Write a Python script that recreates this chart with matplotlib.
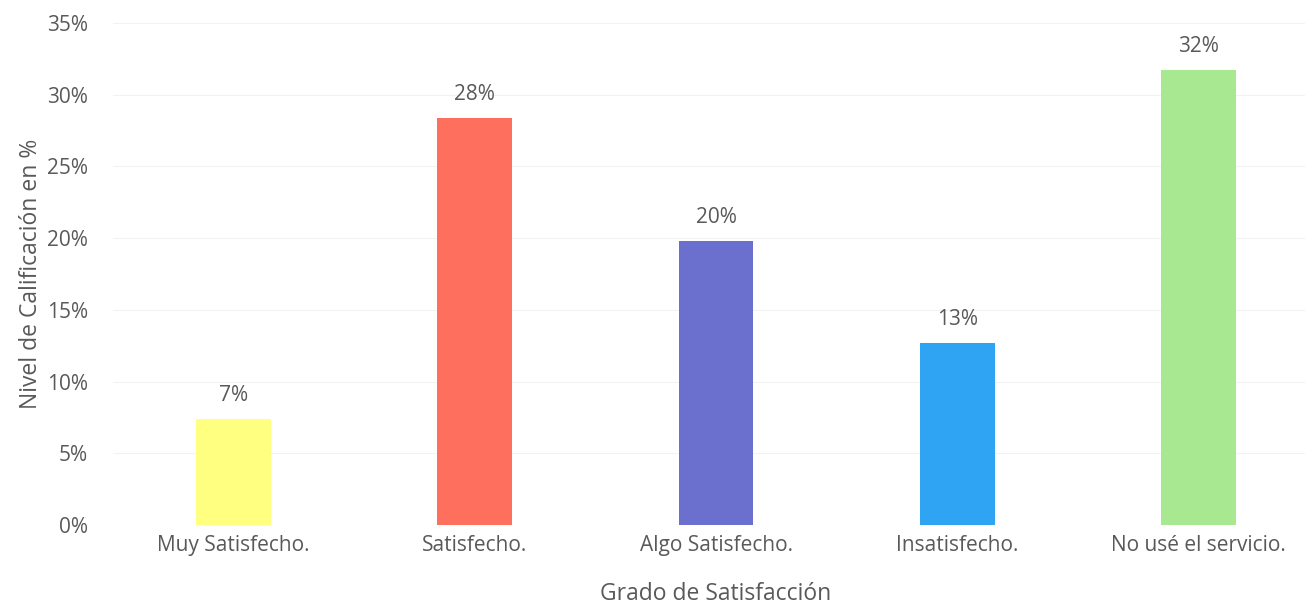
import matplotlib
matplotlib.use("Agg")
import matplotlib.pyplot as plt
from matplotlib.ticker import PercentFormatter

# Survey results: satisfaction level (share of respondents)
categories = ["Muy Satisfecho.", "Satisfecho.", "Algo Satisfecho.",
              "Insatisfecho.", "No usé el servicio."]
shares = [0.074, 0.284, 0.198, 0.127, 0.317]
bar_colors = ["#FFFF80", "#FF6F5E", "#6B70CF", "#2FA4F2", "#A8E890"]

TEXT = "#595959"
plt.rcParams["font.family"] = ["Open Sans", "DejaVu Sans"]

fig = plt.figure(figsize=(13.05, 6.09), dpi=100)
ax = fig.add_axes([113 / 1305, 84 / 609, 1206 / 1305, 502 / 609])

x = range(len(categories))
ax.bar(x, shares, width=0.31, color=bar_colors, zorder=2)

# value labels above each bar
for xi, v in zip(x, shares):
    ax.text(xi, v + 0.009, f"{v:.0%}", ha="center", va="bottom",
            fontsize=15, color=TEXT)

ax.set_xlim(-0.5, 4.5)
ax.set_ylim(0, 0.35)
ax.set_yticks([i * 0.05 for i in range(8)])
ax.yaxis.set_major_formatter(PercentFormatter(1.0, decimals=0))
ax.set_xticks(list(x))
ax.set_xticklabels(categories)

ax.grid(axis="y", color="#F2F2F2", linewidth=0.8, zorder=0)
for s in ax.spines.values():
    s.set_visible(False)
ax.tick_params(length=0, labelsize=15, labelcolor=TEXT)
ax.tick_params(axis="x", pad=7)
ax.tick_params(axis="y", pad=18)

ax.set_xlabel("Grado de Satisfacción", fontsize=16.5, color=TEXT, labelpad=19)
ax.set_ylabel("Nivel de Calificación en %", fontsize=16.5, color=TEXT, labelpad=3)

fig.savefig("out.png", dpi=100)
